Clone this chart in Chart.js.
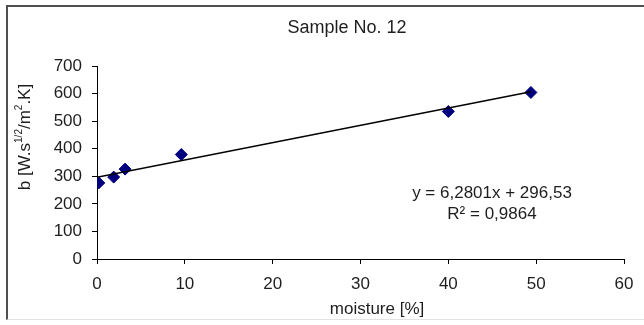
<!DOCTYPE html>
<html>
<head>
<meta charset="utf-8">
<script src="https://cdn.jsdelivr.net/npm/chart.js@4.4.1/dist/chart.umd.min.js"></script>
<style>
  body { margin: 0; background: #fff; }
  #wrap { position: relative; width: 644px; height: 325px; overflow: hidden; }
  #frame {
    position: absolute; left: 6px; top: 5px; width: 660px; height: 312px;
    border-left: 2px solid #505050; border-top: 2px solid #505050;
    border-bottom: 1px solid #e2e2e2;
  }
  #c { position: absolute; left: 0; top: 0; }
</style>
</head>
<body>
<div id="wrap">
  <div id="frame"></div>
  <canvas id="c" width="644" height="325"></canvas>
</div>
<script>
// measured points
var moisture = [0.2, 1.9, 3.2, 9.6, 40, 49.4];
var bValues = [276, 297, 326, 379, 535, 604];

// trendline ends (as shown on the chart)
var trendX = [0, 49.4];
var trendY = [296.5, 606.8];

var xTicks = [0, 10, 20, 30, 40, 50, 60];
var yTicks = [0, 100, 200, 300, 400, 500, 600, 700];

var chartTitle = 'Sample No. 12';
var xTitle = 'moisture [%]';
var eqLines = ['y = 6,2801x + 296,53', 'R\u00b2 = 0,9864'];

var FONT = '"Liberation Sans", Arial, sans-serif';
var TXT = '#1e1e1e';

var points = moisture.map(function (x, i) { return { x: x, y: bValues[i] }; });
var trend = trendX.map(function (x, i) { return { x: x, y: trendY[i] }; });

// titles + equation drawn on top of the chart
var textPlugin = {
  id: 'texts',
  afterDraw: function (chart) {
    var ctx = chart.ctx;
    ctx.save();
    ctx.fillStyle = TXT;
    ctx.textBaseline = 'middle';
    ctx.textAlign = 'center';

    ctx.font = '18px ' + FONT;
    ctx.fillText(chartTitle, 347, 28);

    ctx.font = '17px ' + FONT;
    ctx.fillText(xTitle, 377, 309);

    ctx.fillText(eqLines[0], 492, 193);
    ctx.fillText(eqLines[1], 492, 214);

    // y axis title with superscripts, rotated
    var runs = [
      { t: 'b [W.s', sup: false },
      { t: '1/2', sup: true },
      { t: '/m', sup: false },
      { t: '2', sup: true },
      { t: '.K]', sup: false }
    ];
    var big = '17px ' + FONT, small = '10px ' + FONT;
    var total = 0;
    runs.forEach(function (r) {
      ctx.font = r.sup ? small : big;
      r.w = ctx.measureText(r.t).width;
      total += r.w;
    });
    ctx.translate(25, 137);
    ctx.rotate(-Math.PI / 2);
    ctx.textAlign = 'left';
    var x = -total / 2;
    runs.forEach(function (r) {
      ctx.font = r.sup ? small : big;
      ctx.fillText(r.t, x, r.sup ? -6 : 0);
      x += r.w;
    });
    ctx.restore();
  }
};

var config = {
  type: 'scatter',
  data: {
    datasets: [
      {
        label: 'trend',
        data: trend,
        showLine: true,
        borderColor: '#000',
        borderWidth: 1.5,
        pointRadius: 0,
        order: 0
      },
      {
        label: 'b',
        data: points,
        pointStyle: 'rectRot',
        pointRadius: 6,
        backgroundColor: '#00007f',
        borderColor: '#00007f',
        borderWidth: 1,
        order: 1
      }
    ]
  },
  options: {
    responsive: false,
    animation: false,
    layout: { padding: { top: 66, right: 20, bottom: 0, left: 0 } },
    plugins: {
      legend: { display: false },
      tooltip: { enabled: false },
      title: { display: false }
    },
    scales: {
      x: {
        type: 'linear',
        min: 0,
        max: 60,
        afterBuildTicks: function (s) { s.ticks = xTicks.map(function (v) { return { value: v }; }); },
        afterFit: function (s) { s.height = 66; },
        ticks: { color: TXT, font: { family: FONT, size: 17 }, padding: 10, maxRotation: 0 },
        grid: { drawOnChartArea: false, drawTicks: true, tickLength: 5, color: '#000' },
        border: { display: true, color: '#000', width: 1 }
      },
      y: {
        type: 'linear',
        min: 0,
        max: 700,
        afterBuildTicks: function (s) { s.ticks = yTicks.map(function (v) { return { value: v }; }); },
        afterFit: function (s) { s.width = 97; },
        ticks: { color: TXT, font: { family: FONT, size: 17 }, padding: 10 },
        grid: { drawOnChartArea: false, drawTicks: true, tickLength: 5, color: '#000' },
        border: { display: true, color: '#000', width: 1 }
      }
    }
  },
  plugins: [textPlugin]
};

var myChart = new Chart(document.getElementById('c'), config);
</script>
</body>
</html>
